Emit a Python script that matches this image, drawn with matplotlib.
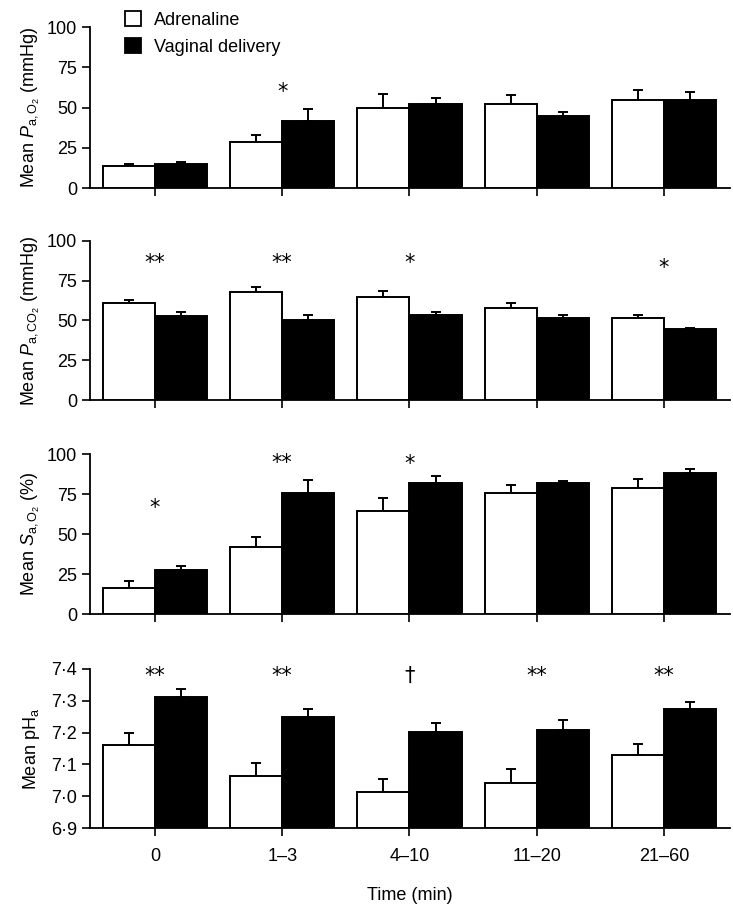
import matplotlib
matplotlib.use("Agg")
import matplotlib.pyplot as plt
from matplotlib.patches import Patch
from matplotlib.ticker import FuncFormatter
import numpy as np

plt.rcParams['font.family'] = ['Liberation Sans', 'DejaVu Sans']
plt.rcParams['mathtext.fontset'] = 'custom'
plt.rcParams['mathtext.rm'] = 'Liberation Sans'
plt.rcParams['mathtext.it'] = 'Liberation Sans:italic'

times = ["0", "1\u20133", "4\u201310", "11\u201320", "21\u201360"]

# PaO2 (mmHg)
pao2_adr = [14, 29, 49.7, 52, 55]
pao2_adr_sem = [1, 4, 8.5, 6, 6]
pao2_vag = [15, 42, 52, 45, 55]
pao2_vag_sem = [1, 7, 4, 2.5, 4.5]
pao2_sig = ["", "*", "", "", ""]
pao2_sig_y = [0, 60, 0, 0, 0]

# PaCO2 (mmHg)
paco2_adr = [61, 67.5, 64.5, 58, 51.5]
paco2_adr_sem = [2, 3.5, 4, 3, 2]
paco2_vag = [53, 50.5, 53.5, 51.5, 44.5]
paco2_vag_sem = [2, 3, 2, 2, 0.5]
paco2_sig = ["**", "**", "*", "", "*"]
paco2_sig_y = [86, 86, 86, 0, 83]

# SaO2 (%)
sao2_adr = [16.5, 42, 64.5, 75.5, 79]
sao2_adr_sem = [4, 6.5, 8, 5, 5.5]
sao2_vag = [27.5, 76, 82, 82, 88.5]
sao2_vag_sem = [2.5, 8, 4.5, 1.5, 2.5]
sao2_sig = ["*", "**", "*", "", ""]
sao2_sig_y = [66.5, 94.5, 94, 0, 0]

# pHa
ph_adr = [7.16, 7.063, 7.013, 7.042, 7.13]
ph_adr_sem = [0.037, 0.042, 0.041, 0.044, 0.034]
ph_vag = [7.313, 7.248, 7.202, 7.208, 7.274]
ph_vag_sem = [0.024, 0.026, 0.028, 0.032, 0.022]
ph_sig = ["**", "**", "\u2020", "**", "**"]
ph_sig_y = [7.378, 7.378, 7.378, 7.378, 7.378]

panels = [
    (pao2_adr, pao2_adr_sem, pao2_vag, pao2_vag_sem, pao2_sig, pao2_sig_y,
     r"Mean $P_{\mathrm{a,O_2}}$ (mmHg)", (0, 100), [0, 25, 50, 75, 100]),
    (paco2_adr, paco2_adr_sem, paco2_vag, paco2_vag_sem, paco2_sig, paco2_sig_y,
     r"Mean $P_{\mathrm{a,CO_2}}$ (mmHg)", (0, 100), [0, 25, 50, 75, 100]),
    (sao2_adr, sao2_adr_sem, sao2_vag, sao2_vag_sem, sao2_sig, sao2_sig_y,
     r"Mean $S_{\mathrm{a,O_2}}$ (%)", (0, 100), [0, 25, 50, 75, 100]),
    (ph_adr, ph_adr_sem, ph_vag, ph_vag_sem, ph_sig, ph_sig_y,
     r"Mean pH$_{\mathrm{a}}$", (6.9, 7.4), [6.9, 7.0, 7.1, 7.2, 7.3, 7.4]),
]

fig = plt.figure(figsize=(7.33, 9.05), dpi=100)
tops = [0.970, 0.734, 0.498, 0.261]
bottoms = [0.792, 0.558, 0.3215, 0.085]
x = np.arange(len(times))
w = 0.41

for i, (adr, adr_sem, vag, vag_sem, sig, sig_y, ylab, ylim, yt) in enumerate(panels):
    ax = fig.add_axes([0.123, bottoms[i], 0.873, tops[i] - bottoms[i]])
    base = ylim[0]
    adr_h = np.array(adr) - base
    vag_h = np.array(vag) - base
    ax.bar(x - w / 2, adr_h, w, bottom=base, color="white", edgecolor="black", linewidth=1.4, zorder=3)
    ax.bar(x + w / 2, vag_h, w, bottom=base, color="black", edgecolor="black", linewidth=1.4, zorder=3)
    ax.errorbar(x - w / 2, adr, yerr=[np.zeros(len(adr)), adr_sem], fmt="none", ecolor="black",
                elinewidth=1.4, capsize=3.7, capthick=1.4, zorder=2)
    ax.errorbar(x + w / 2, vag, yerr=[np.zeros(len(vag)), vag_sem], fmt="none", ecolor="black",
                elinewidth=1.4, capsize=3.7, capthick=1.4, zorder=2)
    for j, s in enumerate(sig):
        if s:
            ax.text(x[j], sig_y[j], s, ha="center", va="center", fontsize=15,
                    family="DejaVu Sans")
    ax.set_xlim(-0.51, 4.52)
    ax.set_ylim(*ylim)
    ax.set_yticks(yt)
    ax.set_xticks(x)
    ax.spines["top"].set_visible(False)
    ax.spines["right"].set_visible(False)
    ax.spines["left"].set_linewidth(1.3)
    ax.spines["bottom"].set_linewidth(1.3)
    ax.tick_params(axis="both", direction="out", length=6, width=1.2, labelsize=13)
    ax.set_ylabel(ylab, fontsize=13)
    ax.yaxis.set_label_coords(-0.075, 0.5)
    if i == 3:
        ax.yaxis.set_major_formatter(FuncFormatter(lambda v, p: ("%.1f" % v).replace(".", "\u00b7")))
        ax.set_xticklabels(times)
        ax.tick_params(axis="x", pad=8)
        ax.set_xlabel("Time (min)", fontsize=13, labelpad=16)
    else:
        ax.set_xticklabels([])

handles = [Patch(facecolor="white", edgecolor="black", linewidth=1.3, label="Adrenaline"),
           Patch(facecolor="black", edgecolor="black", linewidth=1.3, label="Vaginal delivery")]
fig.legend(handles=handles, loc="upper left", bbox_to_anchor=(0.148, 1.006), frameon=False,
           fontsize=13, handlelength=0.9, handleheight=0.9, handletextpad=0.7, labelspacing=0.55)

fig.savefig("out.png", dpi=100)
